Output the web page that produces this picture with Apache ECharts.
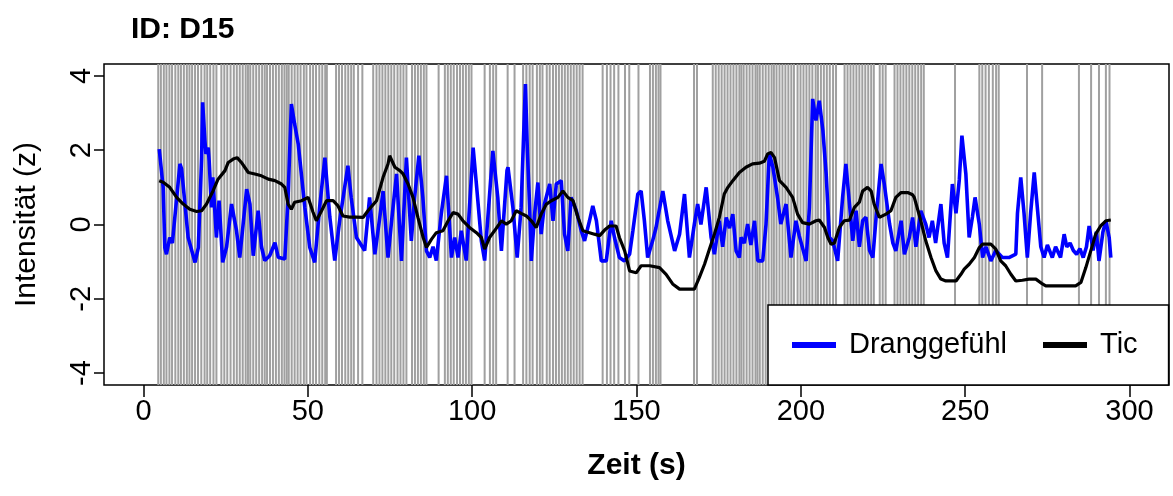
<!DOCTYPE html>
<html>
<head>
<meta charset="utf-8">
<script src="https://cdn.jsdelivr.net/npm/echarts@6/dist/echarts.min.js"></script>
<style>html,body{margin:0;padding:0;background:#fff}#c{width:1173px;height:496px}</style>
</head>
<body>
<div id="c"></div>
<script>
const xTicks = [0, 50, 100, 150, 200, 250, 300];
const yTicks = [-4, -2, 0, 2, 4];

// Tic event times (s) -> grey vertical lines
const ticTimes = [
  4.5, 5.3, 6.2, 7.0, 7.9, 8.7,
  9.7, 10.6, 11.4, 12.3, 13.2, 14.0,
  14.8, 15.7, 16.6, 17.6, 18.6,
  19.4, 20.3, 21.3, 22.2,
  23.7, 24.6, 25.5, 26.5, 27.5, 28.4,
  29.3, 30.2, 31.1, 31.8,
  32.5, 33.4, 34.3, 35.2, 36.1, 36.9,
  37.6, 38.5, 39.4, 40.3, 41.2, 42.1, 42.9, 43.6,
  44.2, 45.1, 46.0, 46.9, 47.8, 48.8, 49.6,
  50.7, 51.6, 52.5, 53.5, 54.4, 55.3, 55.8,
  58.6, 59.5, 60.4, 61.4, 62.3, 63.2, 64.0,
  65.3, 66.6,
  69.9, 70.9,
  71.8, 72.7, 73.6, 74.5, 75.4, 76.3, 77.3, 78.2, 79.1, 80.0,
  81.7, 82.6, 83.5, 84.4, 85.3, 86.1,
  89.8,
  91.7, 92.6, 93.5, 94.4, 95.4, 96.3, 97.2, 98.1, 99.0, 99.8,
  103.8,
  105.4, 106.4, 107.3,
  110.8, 112.9,
  115.5, 116.5, 117.5, 118.4,
  119.7, 120.6, 121.4,
  122.7, 123.6,
  124.6, 125.5, 126.4, 127.3, 128.2, 129.1, 130.0, 130.9, 131.8, 132.7, 133.6,
  139.7,
  141.0, 142.1, 143.2,
  144.5,
  146.5, 147.8,
  150.6,
  154.1, 155.0, 155.9, 156.7, 157.3,
  167.5, 168.4,
  173.2, 174.1, 175.0, 175.9, 176.8, 177.7, 178.6, 179.5, 180.4, 181.3, 181.9,
  182.6, 183.5, 184.4, 185.3, 186.2, 186.8,
  187.5, 188.4, 189.3, 190.2, 191.1, 191.8,
  192.6, 193.5, 194.4, 195.3, 196.2, 197.1, 197.9,
  199.0, 199.9, 200.8, 201.7, 202.6, 203.5, 204.5,
  205.2, 206.1, 207.0, 207.9, 208.8, 209.8, 210.7,
  213.3, 214.2, 215.1, 216.0, 216.9, 217.8, 218.7, 219.6, 220.5, 221.4, 222.2,
  224.0, 224.9, 225.8,
  228.5, 229.4, 230.3, 231.2, 232.1, 233.0, 233.9, 234.8, 235.7, 236.6, 237.4,
  246.9,
  254.3, 255.2, 256.2, 257.2,
  258.4, 259.4, 260.2,
  268.8, 273.4, 284.6, 288.3, 290.7, 292.8, 293.9
];

// Dranggefühl (urge) series
const dragTime = [
  4.8, 6.0, 6.5, 7.0, 8.0, 8.8, 11.1, 11.6, 13.6, 15.7, 16.7, 17.7, 18.0, 18.7, 19.0, 19.7, 20.0, 20.7, 21.1, 22.2,
  23.0, 24.1, 25.3, 26.8, 28.3, 29.3, 31.4, 32.4, 33.4, 34.9, 35.9, 36.9, 38.4, 40.0, 41.0, 43.0, 44.0, 45.0, 46.0, 47.1,
  49.1, 50.6, 52.1, 53.6, 55.2, 56.7, 58.2, 59.7, 62.2, 63.2, 64.8, 67.3, 68.8, 70.4, 71.9, 72.9, 74.4, 75.5, 77.0, 78.5,
  80.0, 81.5, 82.5, 83.8, 85.0, 86.1, 87.1, 88.1, 89.1, 90.6, 92.2, 93.7, 94.7, 95.7, 96.7, 98.2, 100.3, 101.3, 102.8, 103.8,
  106.3, 107.8, 108.9, 110.6, 110.9, 112.4, 113.7, 114.9, 116.2, 116.8, 117.5, 118.0, 119.0, 120.0, 121.0, 122.0, 123.6, 124.6, 125.6, 127.1,
  128.1, 129.1, 130.1, 131.7, 133.2, 134.2, 135.7, 136.7, 137.8, 139.3, 140.8, 142.3, 143.3, 144.8, 146.3, 147.9, 148.9, 150.4, 151.4, 152.4,
  153.4, 154.9, 155.9, 158.0, 159.5, 161.6, 163.1, 164.6, 166.1, 167.6, 168.6, 169.6, 171.2, 172.7, 173.7, 175.2, 176.2, 177.3, 178.3, 179.3,
  180.3, 181.3, 181.8, 182.8, 183.8, 184.8, 185.9, 186.9, 188.4, 189.4, 190.4, 191.5, 192.9, 193.9, 195.5, 197.0, 198.5, 199.5, 201.6, 202.6,
  203.6, 204.6, 205.6, 206.7, 207.7, 208.7, 209.7, 211.2, 212.7, 213.7, 214.8, 215.8, 216.8, 217.8, 218.8, 219.8, 220.9, 221.9, 222.9, 224.4,
  225.4, 227.0, 228.0, 228.9, 230.5, 231.5, 233.0, 234.0, 235.0, 236.5, 238.0, 239.0, 240.0, 241.0, 242.6, 243.6, 244.6, 246.1, 247.2, 248.2,
  249.0, 250.2, 251.2, 252.2, 253.0, 254.3, 255.3, 256.3, 257.8, 259.3, 261.3, 263.3, 265.4, 265.9, 266.9, 267.9, 268.9, 269.9, 271.0, 272.0,
  273.0, 274.0, 275.0, 276.5, 277.5, 279.0, 280.1, 280.9, 281.9, 282.9, 283.9, 284.9, 285.9, 286.9, 287.7, 288.9, 289.9, 290.7, 291.9, 292.8,
  293.8, 294.3
];
const dragValue = [
  2.03, 1.0, -0.62, -0.8, -0.35, -0.5, 1.63, 1.5, -0.35, -1.02, -0.62, 1.8, 3.29, 2.26, 1.9, 2.07, 1.7, 0.46, 1.27, -0.35,
  0.64, -1.02, -0.6, 0.55, -0.16, -0.89, 0.95, 0.55, -0.84, 0.37, -0.6, -0.97, -0.84, -0.49, -0.88, -0.93, 0.73, 3.24, 2.7, 2.16,
  0.46, -0.62, -1.02, 0.46, 1.8, 0.2, -0.97, 0.11, 1.58, 0.73, -0.35, -0.7, 0.73, -0.8, 0.19, 0.9, -0.89, 0.1, 1.36, -0.98,
  1.8, -0.44, 0.73, 1.85, 0.73, -0.71, -0.89, -0.6, -0.97, 0.28, 1.31, -0.89, -0.35, -0.89, -0.17, -0.97, 2.07, 1.08, -0.44, -0.97,
  1.98, 0.73, -0.71, 1.45, 1.54, 0.46, -0.89, 0.46, 3.78, 1.98, 0.46, -0.98, 0.28, 1.13, -0.26, 0.55, 1.09, 0.1, 1.09, 1.18,
  -0.26, -0.71, 0.73, 0.37, -0.17, -0.44, 0.1, 0.5, 0.1, -0.98, -0.98, 0.1, -0.35, -0.89, -0.98, -0.8, -0.17, 0.82, 0.9, 0.1,
  -0.89, -0.44, -0.1, 0.9, 0.1, -0.71, -0.26, 0.82, -0.89, 0.01, 0.55, 0.0, 1.0, -0.35, -0.8, 0.1, -0.6, 0.19, -0.1, 0.28,
  -0.71, -0.89, -0.35, -0.5, 0.01, -0.55, 0.1, -0.98, -0.98, 0.0, 1.9, 1.54, 0.73, 0.01, 0.55, -0.89, 0.1, -0.3, -0.98, 0.46,
  3.38, 2.8, 3.33, 2.53, 1.36, -0.35, -0.44, -0.98, 0.73, 1.63, 0.55, -0.44, 0.37, -0.6, 0.1, 0.2, -0.7, -0.89, 0.2, 1.63,
  1.08, 0.01, -0.5, -0.71, 0.1, -0.8, -0.35, 0.19, -0.6, 0.37, 0.01, -0.35, 0.1, -0.5, 0.55, -0.5, -0.89, 1.09, 0.3, 1.2,
  2.39, 1.36, -0.35, 0.2, 0.73, 0.0, -0.89, -0.6, -0.98, -0.7, -0.89, -0.89, -0.8, 0.3, 1.27, 0.3, -0.89, 0.3, 1.4, 0.4,
  -0.6, -0.89, -0.55, -0.89, -0.6, -0.89, -0.26, -0.6, -0.5, -0.7, -0.8, -0.65, -0.89, -0.6, -0.04, -0.7, -0.2, -0.98, -0.2, 0.1,
  -0.35, -0.89
];

// Tic intensity series
const ticTime = [
  4.8, 6.0, 8.0, 10.1, 12.1, 14.1, 16.2, 17.7, 19.2, 21.2, 22.7, 24.8, 25.8, 27.3, 28.5, 29.8, 31.9, 33.9, 35.9, 38.0,
  40.0, 42.0, 43.0, 44.0, 45.0, 46.0, 48.1, 50.1, 51.6, 52.6, 54.2, 55.7, 57.7, 59.2, 60.7, 62.7, 64.7, 66.8, 68.3, 70.9,
  72.9, 74.4, 74.9, 76.5, 78.0, 79.0, 80.5, 82.0, 83.5, 85.1, 86.1, 87.6, 89.1, 91.1, 92.7, 94.2, 95.7, 97.2, 99.2, 101.3,
  102.8, 103.8, 105.3, 106.8, 108.9, 110.4, 111.9, 113.4, 114.9, 116.5, 118.0, 119.5, 121.0, 122.6, 124.1, 126.1, 127.6, 129.1, 130.7, 132.2,
  133.7, 135.7, 137.2, 138.8, 140.3, 141.8, 143.8, 144.8, 146.4, 147.9, 149.9, 151.4, 154.0, 157.0, 159.0, 161.0, 163.1, 165.6, 167.6, 169.1,
  170.7, 172.2, 173.7, 175.2, 176.7, 177.8, 179.3, 181.3, 183.3, 185.3, 187.4, 188.9, 189.9, 190.9, 192.0, 193.5, 195.5, 197.5, 199.0, 200.5,
  202.6, 204.6, 205.6, 207.2, 208.2, 209.2, 210.2, 211.7, 213.2, 214.8, 216.3, 217.8, 218.8, 220.3, 221.4, 222.3, 223.9, 225.9, 227.4, 228.9,
  230.5, 232.5, 234.0, 234.5, 236.5, 238.0, 239.6, 241.1, 242.6, 244.1, 247.2, 248.7, 249.7, 251.2, 252.8, 254.3, 255.3, 257.8, 259.3, 260.8,
  262.3, 263.9, 265.4, 267.4, 269.4, 271.5, 273.5, 274.5, 277.5, 280.5, 283.6, 285.2, 286.7, 288.2, 289.7, 291.2, 292.8, 294.3
];
const ticValue = [
  1.18, 1.14, 1.0, 0.73, 0.55, 0.41, 0.35, 0.37, 0.55, 0.91, 1.22, 1.45, 1.67, 1.76, 1.8, 1.67, 1.4, 1.36, 1.31, 1.22,
  1.18, 1.09, 1.0, 0.55, 0.41, 0.6, 0.64, 0.73, 0.33, 0.1, 0.37, 0.64, 0.64, 0.5, 0.23, 0.2, 0.2, 0.19, 0.37, 0.64,
  1.27, 1.63, 1.85, 1.54, 1.45, 1.36, 1.09, 0.73, 0.19, -0.35, -0.62, -0.4, -0.22, -0.17, 0.1, 0.32, 0.28, 0.1, -0.08, -0.22,
  -0.35, -0.66, -0.35, -0.17, 0.1, 0.01, 0.1, 0.37, 0.3, 0.23, 0.1, -0.08, 0.28, 0.55, 0.64, 0.73, 0.9, 0.73, 0.64, 0.19,
  -0.17, -0.22, -0.26, -0.3, -0.15, -0.04, -0.04, -0.35, -0.71, -1.25, -1.3, -1.11, -1.11, -1.16, -1.34, -1.6, -1.74, -1.74, -1.74, -1.43,
  -1.07, -0.66, -0.26, 0.19, 0.82, 1.0, 1.18, 1.4, 1.54, 1.63, 1.65, 1.7, 1.9, 1.94, 1.8, 1.18, 1.0, 0.73, 0.28, 0.05,
  0.01, 0.1, 0.12, -0.08, -0.35, -0.53, -0.5, -0.08, 0.1, 0.12, 0.46, 0.6, 0.9, 1.0, 0.9, 0.55, 0.19, 0.28, 0.37, 0.73,
  0.86, 0.86, 0.8, 0.73, 0.1, -0.44, -0.89, -1.25, -1.47, -1.52, -1.52, -1.34, -1.2, -1.07, -0.89, -0.62, -0.53, -0.53, -0.66, -0.98,
  -1.11, -1.34, -1.52, -1.5, -1.47, -1.47, -1.6, -1.65, -1.65, -1.65, -1.65, -1.56, -1.16, -0.71, -0.26, -0.04, 0.1, 0.12
];

const Y_MIN = -4.32, Y_MAX = 4.32;
const FONT = 'Liberation Sans, Arial, sans-serif';
const chart = echarts.init(document.getElementById('c'), null, {renderer: 'canvas'});
chart.setOption({
  animation: false,
  backgroundColor: '#fff',
  title: {
    text: 'ID: D15', left: 126, top: 10,
    textStyle: {fontFamily: FONT, fontSize: 30, fontWeight: 'bold', color: '#000'}
  },
  grid: {
    left: 104, top: 64, right: 4, bottom: 111,
    show: true, borderColor: '#000', borderWidth: 1.5, backgroundColor: 'transparent'
  },
  legend: {
    left: 768, top: 305,
    padding: [24, 31, 24, 24],
    itemGap: 36,
    itemWidth: 44, itemHeight: 6,
    icon: 'rect',
    z: 10,
    backgroundColor: '#fff', borderColor: '#000', borderWidth: 1.5, borderRadius: 0,
    textStyle: {fontFamily: FONT, fontSize: 29, color: '#000', lineHeight: 32, padding: [0, 0, 0, 8]},
    data: ['Dranggefühl', 'Tic']
  },
  xAxis: {
    type: 'value', min: -12, max: 312,
    name: 'Zeit (s)', nameLocation: 'middle', nameGap: 66,
    nameTextStyle: {fontFamily: FONT, fontSize: 30, fontWeight: 'bold', color: '#000'},
    axisLine: {show: false, onZero: false},
    splitLine: {show: false},
    axisTick: {show: true, customValues: xTicks, length: 12, lineStyle: {color: '#000', width: 1.5}},
    axisLabel: {customValues: xTicks, margin: 12, fontFamily: FONT, fontSize: 29, color: '#000'}
  },
  yAxis: {
    type: 'value', min: Y_MIN, max: Y_MAX,
    name: 'Intensität (z)', nameLocation: 'middle', nameGap: 62, nameRotate: 90,
    nameTextStyle: {fontFamily: FONT, fontSize: 30, color: '#000'},
    axisLine: {show: false, onZero: false},
    splitLine: {show: false},
    axisTick: {show: true, customValues: yTicks, length: 10, lineStyle: {color: '#000', width: 1.5}},
    axisLabel: {customValues: yTicks, rotate: 90, margin: 8, fontFamily: FONT, fontSize: 29, color: '#000'}
  },
  series: [
    {
      name: 'tics', type: 'custom', silent: true, z: 1,
      data: ticTimes.map(t => [t]),
      encode: {x: 0},
      renderItem: function (params, api) {
        const t = api.value(0);
        const p1 = api.coord([t, Y_MIN]);
        const p2 = api.coord([t, Y_MAX]);
        return {
          type: 'line', silent: true,
          shape: {x1: p1[0], y1: p1[1], x2: p2[0], y2: p2[1]},
          style: {stroke: '#a0a0a0', lineWidth: 2}
        };
      }
    },
    {
      name: 'Dranggefühl', type: 'line', showSymbol: false, z: 3,
      lineStyle: {color: '#0000ff', width: 3.6}, itemStyle: {color: '#0000ff'},
      data: dragTime.map((t, i) => [t, dragValue[i]])
    },
    {
      name: 'Tic', type: 'line', showSymbol: false, z: 4,
      lineStyle: {color: '#000000', width: 3.2}, itemStyle: {color: '#000000'},
      data: ticTime.map((t, i) => [t, ticValue[i]])
    }
  ]
});
</script>
</body>
</html>
